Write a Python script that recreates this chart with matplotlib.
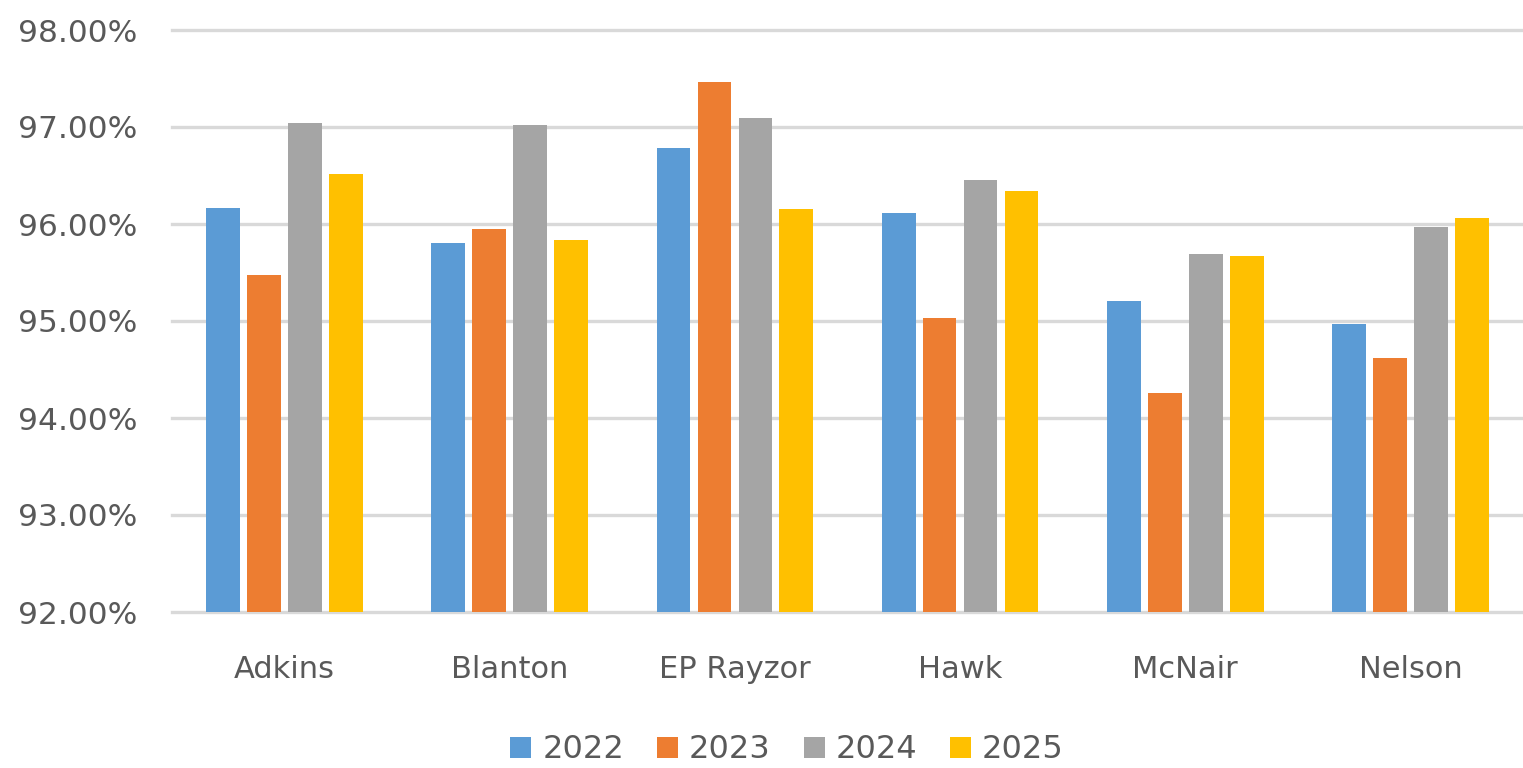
import matplotlib
matplotlib.use("Agg")
import matplotlib.pyplot as plt
import numpy as np
from matplotlib.ticker import FuncFormatter, MultipleLocator
from matplotlib.patches import Patch

categories = ["Adkins", "Blanton", "EP Rayzor", "Hawk", "McNair", "Nelson"]
years = ["2022", "2023", "2024", "2025"]
v2022 = [96.17, 95.80, 96.78, 96.11, 95.21, 94.97]
v2023 = [95.47, 95.95, 97.46, 95.03, 94.26, 94.62]
v2024 = [97.04, 97.02, 97.09, 96.45, 95.69, 95.97]
v2025 = [96.52, 95.84, 96.15, 96.34, 95.67, 96.06]
colors = ["#5B9BD5", "#ED7D31", "#A5A5A5", "#FFC000"]

plt.rcParams['font.family'] = ['DejaVu Sans']

fig = plt.figure(figsize=(15.23, 7.68), dpi=100)
ax = fig.add_axes([172/1523, 1-612/768, 1-172/1523, (612-30)/768])

x = np.arange(len(categories))
slot = 0.182
bw = 0.15
series = [v2022, v2023, v2024, v2025]
for i, (vals, c) in enumerate(zip(series, colors)):
    ax.bar(x + (i - 1.5) * slot, vals, width=bw, bottom=0, color=c, zorder=3)

ax.set_ylim(92, 98)
ax.set_xlim(-0.5, len(categories) - 0.5)
ax.yaxis.set_major_locator(MultipleLocator(1))
ax.yaxis.set_major_formatter(FuncFormatter(lambda v, p: f"{v:.2f}%"))
ax.set_xticks(x)
ax.set_xticklabels(categories)
ax.grid(axis='y', color='#D9D9D9', linewidth=2.4, zorder=0)
for gl in ax.get_ygridlines():
    gl.set_clip_on(False)
for s in ax.spines.values():
    s.set_visible(False)
ax.tick_params(axis='both', length=0, labelsize=22, labelcolor='#595959')
ax.tick_params(axis='x', pad=31)
ax.tick_params(axis='y', labelsize=22.5, pad=25)

handles = [Patch(facecolor=c, label=y) for c, y in zip(colors, years)]
fig.legend(handles=handles, loc='center', bbox_to_anchor=(787/1523, 1-750/768),
           ncol=4, frameon=False, fontsize=23, labelcolor='#595959',
           handlelength=0.66, handleheight=0.66, handletextpad=0.34, columnspacing=1.03,
           borderpad=0, borderaxespad=0)

fig.savefig("out.png", dpi=100)
